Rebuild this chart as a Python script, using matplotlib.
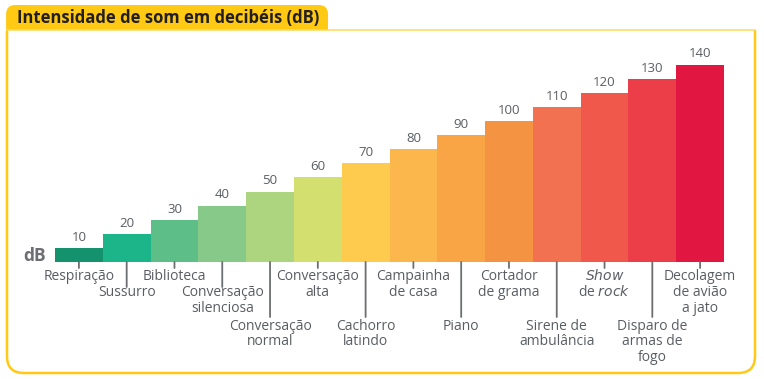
import matplotlib
matplotlib.use("Agg")
import matplotlib.pyplot as plt
from matplotlib.patches import FancyBboxPatch, Rectangle
from matplotlib.lines import Line2D

plt.rcParams['font.family'] = ['Open Sans', 'DejaVu Sans']

title = "Intensidade de som em decibéis (dB)"
values = [10, 20, 30, 40, 50, 60, 70, 80, 90, 100, 110, 120, 130, 140]
labels = ["Respiração", "Sussurro", "Biblioteca", "Conversação\nsilenciosa",
          "Conversação\nnormal", "Conversação\nalta", "Cachorro\nlatindo",
          "Campainha\nde casa", "Piano", "Cortador\nde grama",
          "Sirene de\nambulância", "$\\it{Show}$\nde $\\it{rock}$",
          "Disparo de\narmas de\nfogo", "Decolagem\nde avião\na jato"]
colors = ["#13926D", "#1BB589", "#5DBE87", "#86C988", "#ADD57F", "#D3E06F",
          "#FECB4F", "#FBB74B", "#F9A546", "#F49443", "#F17150", "#EF584B",
          "#EC3E49", "#E11641"]
# label row (tick length level) for each category: 0 short, 1 middle, 2 long
rows = [0, 1, 0, 1, 2, 0, 2, 0, 2, 0, 2, 0, 2, 0]

W, H = 764, 379
fig = plt.figure(figsize=(W / 100, H / 100), dpi=100)

yellow = "#FFC914"
textc = "#5A5D63"

def fy(py):
    return (H - py) / H

# frame: rounded box extended above, clipped so the top corners are square
frame = FancyBboxPatch((7 / W, fy(373)), (755 - 7) / W, (373 - 0) / H,
                       boxstyle="round,pad=0,rounding_size=0.022",
                       transform=fig.transFigure, fill=False,
                       edgecolor=yellow, linewidth=1.8, mutation_aspect=W / H)
fig.patches.append(frame)
clip_low = Rectangle((0, 0), 1, fy(30), transform=fig.transFigure, visible=False)
fig.patches.append(clip_low)
frame.set_clip_path(clip_low)
fig.lines.append(Line2D([7 / W, 755 / W], [fy(30)] * 2, transform=fig.transFigure,
                        color="#FFDB66", linewidth=1.2))

# title tab: rounded box extended below, clipped so only the top corners are round
tab = FancyBboxPatch((6.1 / W, fy(50)), (328 - 6.1) / W, (50 - 5) / H,
                     boxstyle="round,pad=0,rounding_size=0.012",
                     transform=fig.transFigure, facecolor=yellow,
                     edgecolor="none", mutation_aspect=W / H)
fig.patches.append(tab)
clip_high = Rectangle((0, fy(30)), 1, 1 - fy(30), transform=fig.transFigure, visible=False)
fig.patches.append(clip_high)
tab.set_clip_path(clip_high)
fig.text(17 / W, fy(18), title, fontsize=12, fontweight="bold",
         color="#231F20", ha="left", va="center")

# axes
left, right, base, top = 55, 724, 262, 30
ax = fig.add_axes([left / W, fy(base), (right - left) / W, (base - top) / H])
x = list(range(len(values)))
ax.bar(x, values, width=1.0, color=colors, edgecolor="none")
ax.set_xlim(-0.5, len(values) - 0.5)
ax.set_ylim(0, (base - top) / 1.41)
ax.axis("off")
ax.patch.set_alpha(0)

for xi, v in zip(x, values):
    ax.annotate(str(v), (xi, v), xytext=(0, 3), textcoords="offset points",
                ha="center", va="bottom", fontsize=9.5, color=textc)

tick_len = {0: 6, 1: 25, 2: 55}
label_y = {0: 277, 1: 293, 2: 326}
for xi, lab, r in zip(x, labels, rows):
    ax.annotate("", xy=(xi, 0), xytext=(0, -tick_len[r] * 0.72), textcoords="offset points",
                arrowprops=dict(arrowstyle="-", color="#6D6E71", lw=1.3,
                                shrinkA=0, shrinkB=0))
    ax.annotate(lab, (xi, 0), xytext=(0, -(label_y[r] - base - 7.5) * 0.72),
                textcoords="offset points", ha="center", va="top",
                fontsize=10, color=textc, linespacing=1.05)

fig.text(23 / W, fy(256), "dB", fontsize=12.5, fontweight="bold",
         color="#6D6E71", ha="left", va="center")

fig.savefig("out.png", dpi=100)
